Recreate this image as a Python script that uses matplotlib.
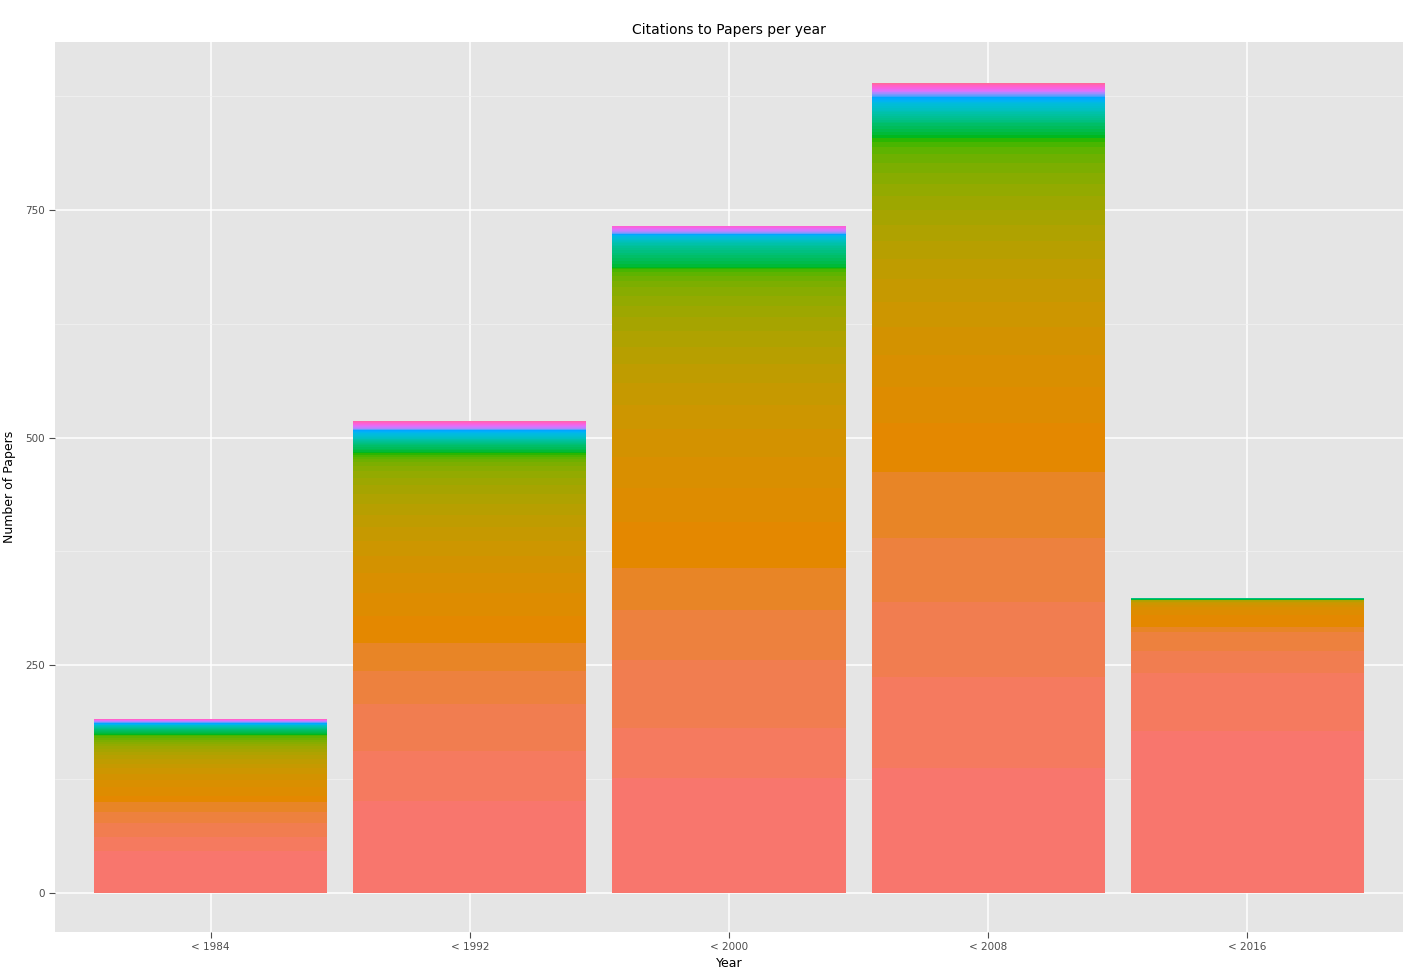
import numpy as np
import matplotlib.pyplot as plt

# categories and citation-count levels (72 levels, coloured by ggplot's hue palette)
years = ['< 1984', '< 1992', '< 2000', '< 2008', '< 2016']
n_levels = 72

# papers per level, bottom level first
c1984 = [46, 15, 16, 12, 11, 6,
         10, 8, 7, 6, 5, 5, 4, 4, 3, 3, 3, 2, 2, 2, 2, 1, 1, 1,
         1, 1, 1, 1, 1, 0, 1, 0, 1, 0, 1, 0,
         1, 0, 0, 1, 0, 0, 1, 0, 0, 1, 0, 0,
         1, 0, 0, 0, 1, 0, 0, 0, 0, 1, 0, 0, 0, 0, 0, 1, 0, 0, 0, 0, 0, 0, 0, 0]
c1992 = [101, 55, 52, 36, 31, 29,
         25, 22, 19, 17, 15, 13, 12, 11, 10, 8, 7, 6, 4, 3, 3, 2, 2, 1,
         2, 2, 2, 2, 1, 1, 1, 1, 1, 1, 1, 1,
         1, 1, 1, 1, 1, 0, 1, 0, 1, 0, 1, 0,
         1, 0, 1, 0, 1, 0, 1, 0, 1, 0, 1, 0, 1, 0, 1, 0, 1, 0, 1, 0, 0, 0, 0, 0]
c2000 = [126, 55, 75, 55, 46, 50,
         38, 34, 30, 27, 24, 21, 19, 17, 15, 13, 11, 9, 7, 6, 4, 3, 1, 1,
         4, 3, 3, 3, 3, 3, 2, 2, 2, 2, 1, 1,
         1, 1, 1, 1, 1, 0, 1, 0, 1, 0, 1, 0,
         1, 0, 1, 0, 1, 0, 1, 0, 1, 0, 1, 0, 1, 0, 1, 0, 0, 0, 0, 0, 0, 0, 0, 0]
c2008 = [137, 100, 83, 70, 72, 54,
         40, 35, 30, 28, 25, 22, 20, 18, 16, 15, 14, 12, 11, 9, 8, 6, 4, 3,
         4, 3, 3, 3, 2, 2, 2, 2, 2, 2, 2, 1,
         2, 2, 2, 1, 1, 1, 1, 1, 1, 1, 1, 1,
         1, 1, 0, 1, 1, 0, 1, 1, 0, 1, 1, 0, 1, 1, 0, 1, 1, 0, 1, 0, 1, 0, 0, 0]
c2016 = [178, 64, 24, 21, 5, 13,
         6, 3, 2, 2, 1, 1, 1, 1, 0, 0, 0, 0, 0, 0, 0, 0, 0, 0,
         1, 0, 0, 0, 0, 1, 0, 0, 0, 0, 0, 0,
         0, 0, 0, 0, 0, 0, 0, 0, 0, 0, 0, 0,
         0, 0, 0, 0, 0, 0, 0, 0, 0, 0, 0, 0, 0, 0, 0, 0, 0, 0, 0, 0, 0, 0, 0, 0]
counts = np.array([c1984, c1992, c2000, c2008, c2016])


def hcl_to_rgb(h, c=100, l=65):
    # polar Luv -> sRGB, like R's hcl()
    hr = np.radians(h)
    u, v = c * np.cos(hr), c * np.sin(hr)
    xn, yn, zn = 95.047, 100.0, 108.883
    un = 4 * xn / (xn + 15 * yn + 3 * zn)
    vn = 9 * yn / (xn + 15 * yn + 3 * zn)
    Y = yn * (((l + 16) / 116) ** 3 if l > 8 else l / 903.3)
    up, vp = u / (13 * l) + un, v / (13 * l) + vn
    X = 9.0 * Y * up / (4 * vp)
    Z = -X / 3 - 5 * Y + 3 * Y / vp
    xyz = np.array([X, Y, Z]) / 100
    m = np.array([[3.2406, -1.5372, -0.4986],
                  [-0.9689, 1.8758, 0.0415],
                  [0.0557, -0.2040, 1.0570]])
    rgb = m @ xyz
    rgb = np.where(rgb > 0.0031308, 1.055 * np.abs(rgb) ** (1 / 2.4) - 0.055, 12.92 * rgb)
    return np.clip(rgb, 0, 1)


hues = np.linspace(15, 375, n_levels + 1)[:-1]
colors = [hcl_to_rgb(h) for h in hues]

fig = plt.figure(figsize=(14.24, 9.8), dpi=100)
ax = fig.add_axes([55 / 1424, 48 / 980, 1348 / 1424, 890 / 980])
ax.set_facecolor('#E5E5E5')

x = np.arange(len(years))
bottom = np.zeros(len(years))
for k in range(n_levels):
    ax.bar(x, counts[:, k], bottom=bottom, width=0.9, color=colors[k], linewidth=0, zorder=3)
    bottom += counts[:, k]

ax.set_xlim(-0.6, 4.6)
ax.set_ylim(-42.8, 934.4)
ax.set_xticks(x)
ax.set_xticklabels(years)
ax.set_yticks([0, 250, 500, 750])
ax.set_yticks([125, 375, 625, 875], minor=True)
ax.grid(which='major', color='white', linewidth=1.1, zorder=0)
ax.grid(which='minor', axis='y', color='#F2F2F2', linewidth=0.5, zorder=0)
ax.set_axisbelow(True)
for s in ax.spines.values():
    s.set_visible(False)
ax.tick_params(which='both', length=4, color='#4D4D4D', labelsize=7.5, labelcolor='#4D4D4D')
ax.tick_params(which='minor', length=0)
ax.set_title('Citations to Papers per year', fontsize=10)
ax.set_xlabel('Year', fontsize=9, labelpad=3)
ax.set_ylabel('Number of Papers', fontsize=9, labelpad=6)

fig.savefig('out.png', dpi=100)
